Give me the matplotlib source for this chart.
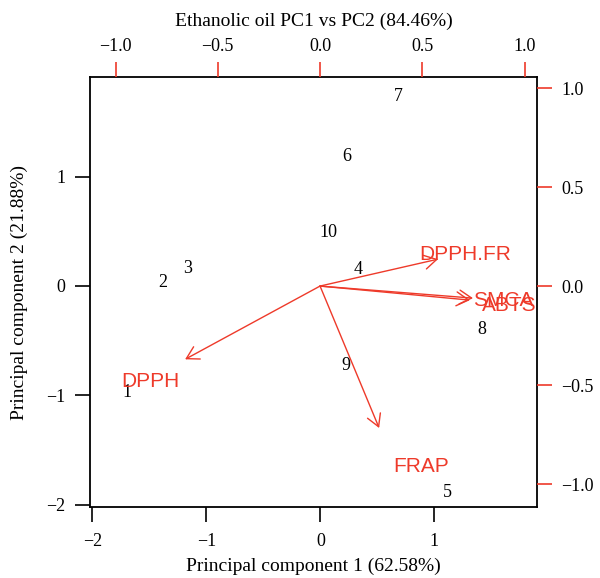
import matplotlib
matplotlib.use("Agg")
import matplotlib.pyplot as plt

plt.rcParams["font.family"] = ["Liberation Serif", "DejaVu Serif"]

# sample scores (PC1, PC2)
sample_labels = ["1", "2", "3", "4", "5", "6", "7", "8", "9", "10"]
pc1 = [-1.70, -1.38, -1.16, 0.33, 1.11, 0.23, 0.68, 1.42, 0.22, 0.07]
pc2 = [-0.97, 0.03, 0.16, 0.15, -1.89, 1.18, 1.73, -0.40, -0.73, 0.49]

# variable loadings (arrow tips and label positions, top/right scale)
var_names = ["DPPH", "DPPH.FR", "SMCA", "ABTS", "FRAP"]
arrow_x = [-0.66, 0.577, 0.748, 0.733, 0.289]
arrow_y = [-0.37, 0.136, -0.061, -0.071, -0.717]
label_x = [-0.83, 0.709, 0.895, 0.924, 0.494]
label_y = [-0.48, 0.157, -0.071, -0.096, -0.909]

bottom_ticks = [-2, -1, 0, 1]
left_ticks = [-2, -1, 0, 1]
top_ticks = [-1.0, -0.5, 0.0, 0.5, 1.0]
right_ticks = [-1.0, -0.5, 0.0, 0.5, 1.0]

red = "#ee3a2a"


def fmt(vals, pattern):
    return [pattern.format(v).replace("-", "\u2212") for v in vals]


fig = plt.figure(figsize=(6, 5.78), dpi=100)
pos = [0.15, 0.1228, 0.745, 0.744]
ax = fig.add_axes(pos)
ax.set_xlim(-2.02, 1.90)
ax.set_ylim(-2.02, 1.91)
for i, lab in enumerate(sample_labels):
    ax.text(pc1[i], pc2[i], lab, ha="center", va="center", fontsize=13)
ax.set_xticks(bottom_ticks)
ax.set_yticks(left_ticks)
ax.set_xticklabels(fmt(bottom_ticks, "{:g}"))
ax.set_yticklabels(fmt(left_ticks, "{:g}"))
ax.tick_params(direction="out", length=10.5, width=1.2, labelsize=13)
ax.tick_params(axis="x", pad=8)
ax.tick_params(axis="y", pad=7)
ax.set_xlabel("Principal component 1 (62.58%)", fontsize=14, labelpad=6)
ax.set_ylabel("Principal component 2 (21.88%)", fontsize=14, labelpad=13)
for s in ax.spines.values():
    s.set_linewidth(1.3)

ax2 = fig.add_axes(pos, frameon=False)
ax2.patch.set_alpha(0)
ax2.set_xlim(-1.125, 1.061)
ax2.set_ylim(-1.116, 1.056)
ax2.xaxis.tick_top()
ax2.yaxis.tick_right()
ax2.xaxis.set_label_position("top")
ax2.set_xticks(top_ticks)
ax2.set_yticks(right_ticks)
ax2.set_xticklabels(fmt(top_ticks, "{:.1f}"))
ax2.set_yticklabels(fmt(right_ticks, "{:.1f}"))
ax2.tick_params(direction="out", length=10.5, width=1.2, color=red, labelsize=13)
ax2.tick_params(axis="x", pad=5)
ax2.tick_params(axis="y", pad=7)
ax2.set_xlabel("Ethanolic oil PC1 vs PC2 (84.46%)", fontsize=14, labelpad=9)

for i, name in enumerate(var_names):
    ax2.annotate("", xy=(arrow_x[i], arrow_y[i]), xytext=(0, 0),
                 arrowprops=dict(arrowstyle="->,head_length=0.87,head_width=0.5",
                                 color=red, lw=1.0, shrinkA=0, shrinkB=0,
                                 mutation_scale=10))
    ax2.text(label_x[i], label_y[i], name, ha="center", va="center",
             color=red, fontsize=15, family=["Liberation Sans", "DejaVu Sans"],
             clip_on=True)

fig.savefig("out.png", dpi=100)
